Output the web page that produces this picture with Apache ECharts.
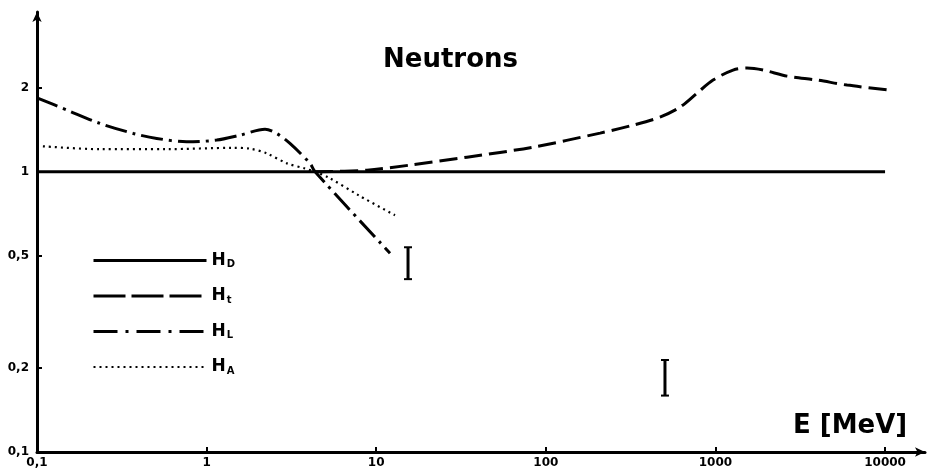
<!DOCTYPE html>
<html><head><meta charset="utf-8">
<script src="https://cdn.jsdelivr.net/npm/echarts@6/dist/echarts.min.js"></script>
<style>html,body{margin:0;padding:0;background:#fff}#c{width:930px;height:474px}</style>
</head><body><div id="c"></div><script>
// ---- data ----
const xTicks = [0.1, 1, 10, 100, 1000, 10000];
const yTicks = [0.1, 0.2, 0.5, 1, 2];
const hD = [[0.1, 1], [10000, 1]];
const hT = [[4.36, 1.0], [8.83, 1.014], [15.8, 1.057], [34.3, 1.128], [84, 1.225], [209, 1.375], [327, 1.468], [471, 1.568], [618, 1.702], [779, 1.91], [968, 2.126], [1270, 2.308], [1536, 2.346], [1909, 2.308], [2643, 2.196], [3972, 2.126], [5970, 2.04], [10700, 1.958]];
const hL = [[0.1, 1.838], [0.15, 1.662], [0.235, 1.489], [0.37, 1.371], [0.508, 1.316], [0.763, 1.28], [1.147, 1.298], [1.574, 1.352], [2.21, 1.42], [2.59, 1.371], [3.1, 1.263], [4.07, 1.072], [4.36, 1.0], [12.06, 0.5125]];
const hA = [[0.1, 1.238], [0.235, 1.205], [0.583, 1.205], [1.43, 1.218], [1.8, 1.21], [2.27, 1.163], [2.98, 1.072], [3.8, 1.028], [4.36, 1.0], [5.2, 0.957], [8.0, 0.82], [12.9, 0.70]];
const errorBars = [[15.4, 0.414, 0.538], [504, 0.159, 0.213]];
const seriesNames = ['D', 't', 'L', 'A'];

const FONT = 'DejaVu Sans';
const fmt = v => String(v).replace('.', ',');

const chart = echarts.init(document.getElementById('c'), null, {renderer: 'canvas'});
chart.setOption({
  backgroundColor: '#fff',
  animation: false,
  title: [
    {text: 'Neutrons', left: 383, top: 47, padding: 0,
     textStyle: {fontFamily: FONT, fontWeight: 'bold', fontSize: 26, color: '#000'}},
    {text: 'E [MeV]', left: 793, top: 413, padding: 0,
     textStyle: {fontFamily: FONT, fontWeight: 'bold', fontSize: 26, color: '#000'}}
  ],
  grid: {left: 37, right: 5, top: 12, bottom: 22, containLabel: false},
  legend: {
    orient: 'vertical', left: 92, top: 252, padding: 0,
    itemWidth: 113, itemHeight: 14, itemGap: 18,
    itemStyle: {opacity: 0},
    data: [
      {name: seriesNames[0], lineStyle: {width: 3}},
      {name: seriesNames[1], lineStyle: {width: 3, type: [32, 6]}},
      {name: seriesNames[2], lineStyle: {width: 3, type: [24, 8, 3, 8]}},
      {name: seriesNames[3], lineStyle: {width: 2.2}}
    ],
    formatter: name => '{h|H}{s|' + name + '}',
    textStyle: {
      color: '#000',
      rich: {
        h: {fontFamily: FONT, fontWeight: 'bold', fontSize: 17, color: '#000'},
        s: {fontFamily: FONT, fontWeight: 'bold', fontSize: 10, color: '#000', padding: [8, 0, 0, 1]}
      }
    }
  },
  xAxis: {
    type: 'log', logBase: 10, min: 0.1, max: 17200,
    axisLine: {show: true, lineStyle: {color: '#000', width: 3}, symbol: ['none', 'arrow'], symbolSize: [7, 10]},
    axisTick: {show: true, inside: true, length: 5, customValues: xTicks, lineStyle: {color: '#000', width: 2}},
    axisLabel: {customValues: xTicks, formatter: fmt, margin: 5, color: '#000',
      fontFamily: FONT, fontWeight: 'bold', fontSize: 12},
    splitLine: {show: false}, minorTick: {show: false}
  },
  yAxis: {
    type: 'log', logBase: 10, min: 0.1, max: 3.72,
    axisLine: {show: true, lineStyle: {color: '#000', width: 3}, symbol: ['none', 'arrow'], symbolSize: [7, 10]},
    axisTick: {show: true, inside: true, length: 5, customValues: yTicks, lineStyle: {color: '#000', width: 2}},
    axisLabel: {customValues: yTicks, formatter: fmt, margin: 8, color: '#000',
      fontFamily: FONT, fontWeight: 'bold', fontSize: 12},
    splitLine: {show: false}, minorTick: {show: false}
  },
  series: [
    {name: seriesNames[0], type: 'line', data: hD, symbol: 'none', silent: true,
     lineStyle: {color: '#000', width: 3, type: 'solid'}},
    {name: seriesNames[1], type: 'line', data: hT, symbol: 'none', smooth: 0.3, silent: true,
     lineStyle: {color: '#000', width: 3, type: [18, 7], cap: 'butt'}},
    {name: seriesNames[2], type: 'line', data: hL, symbol: 'none', smooth: 0.3, silent: true,
     lineStyle: {color: '#000', width: 3, type: [22, 6, 3, 6], cap: 'butt'}},
    {name: seriesNames[3], type: 'line', data: hA, symbol: 'none', smooth: 0.3, silent: true,
     lineStyle: {color: '#000', width: 2.2, type: [2, 4], cap: 'butt'}},
    {name: 'err', type: 'custom', data: errorBars, silent: true,
     encode: {x: 0, y: [1, 2]},
     renderItem: function (params, api) {
       const x = api.value(0);
       const lo = api.coord([x, api.value(1)]);
       const hi = api.coord([x, api.value(2)]);
       const w = 4;
       return {type: 'group', children: [
         {type: 'line', shape: {x1: lo[0], y1: lo[1], x2: hi[0], y2: hi[1]}, style: {stroke: '#000', lineWidth: 3}},
         {type: 'line', shape: {x1: lo[0] - w, y1: lo[1], x2: lo[0] + w, y2: lo[1]}, style: {stroke: '#000', lineWidth: 2}},
         {type: 'line', shape: {x1: hi[0] - w, y1: hi[1], x2: hi[0] + w, y2: hi[1]}, style: {stroke: '#000', lineWidth: 2}}
       ]};
     }}
  ]
});
</script></body></html>
